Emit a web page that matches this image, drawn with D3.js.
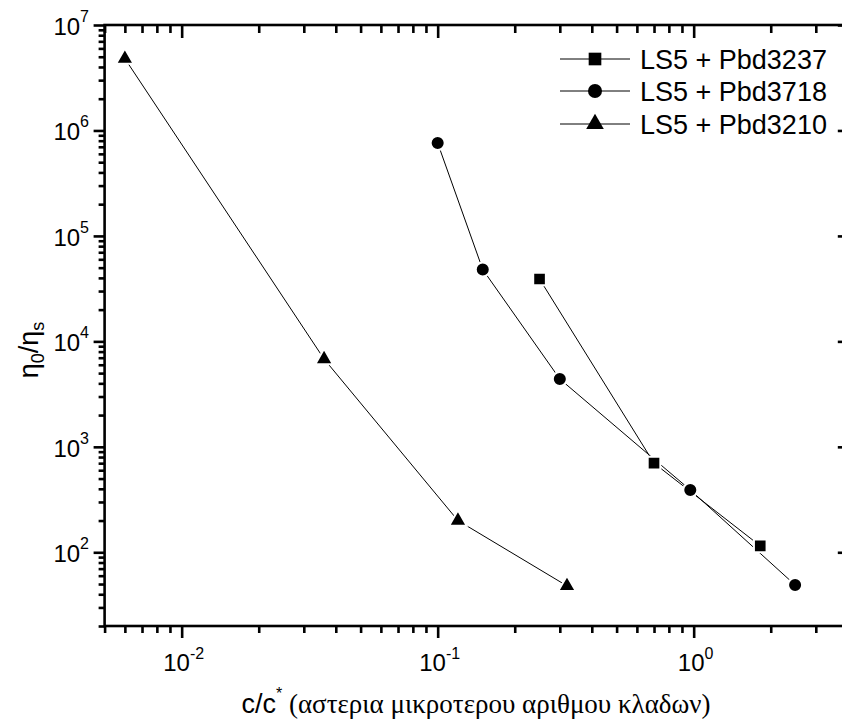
<!DOCTYPE html>
<html><head><meta charset="utf-8">
<script src="https://cdn.jsdelivr.net/npm/d3@7"></script>
<style>body{margin:0;background:#fff} svg{display:block}</style>
</head><body>
<svg id="c" width="842" height="728"></svg>
<script>
const seriesNames = ["LS5 + Pbd3237", "LS5 + Pbd3718", "LS5 + Pbd3210"];
const pbd3237X = [0.25, 0.70, 1.82];
const pbd3237Y = [39000, 700, 115];
const pbd3718X = [0.10, 0.15, 0.30, 0.97, 2.49];
const pbd3718Y = [760000, 48000, 4400, 390, 49];
const pbd3210X = [0.006, 0.036, 0.12, 0.32];
const pbd3210Y = [4800000, 6800, 200, 48];
const xTickExps = [-2, -1, 0];
const yTickExps = [2, 3, 4, 5, 6, 7];
const xDomain = [0.005, 4];
const yDomain = [20, 1e7];

const svg = d3.select("#c");
const L = 104.6, R = 847.8, T = 25, B = 626;
const x = d3.scaleLog().domain(xDomain).range([L, R]);
const y = d3.scaleLog().domain(yDomain).range([B, T]);

const xMajors = xTickExps.map(e => Math.pow(10, e));
const yMajors = yTickExps.map(e => Math.pow(10, e));
const isMajor = v => Math.abs(Math.log10(v) - Math.round(Math.log10(v))) < 1e-9;
const xMinors = x.ticks(50).filter(v => !isMajor(v));
const yMinors = y.ticks(50).filter(v => !isMajor(v));

const FONT = "Liberation Sans, Arial, sans-serif";
const SW = 2.6;

function axis(gen, scale, vals, len, tx, ty) {
  const g = svg.append("g").attr("transform", `translate(${tx},${ty})`)
    .call(gen(scale).tickValues(vals).tickSize(len).tickFormat(""));
  g.select(".domain").remove();
  g.selectAll(".tick line").attr("stroke", "#000").attr("stroke-width", SW);
  return g;
}
axis(d3.axisBottom, x, xMajors, 12, 0, B);
axis(d3.axisBottom, x, xMinors, 7, 0, B);
axis(d3.axisTop, x, xMajors, -13, 0, T);
axis(d3.axisTop, x, xMinors, -8, 0, T);
axis(d3.axisLeft, y, yMajors, 11, L, 0);
axis(d3.axisLeft, y, yMinors, 6, L, 0);
axis(d3.axisRight, y, yMajors, -10, R, 0);
axis(d3.axisRight, y, yMinors, -5, R, 0);

svg.append("rect").attr("x", L).attr("y", T).attr("width", R - L).attr("height", B - T)
  .attr("fill", "none").attr("stroke", "#000").attr("stroke-width", SW);

xTickExps.forEach(e => {
  const t = svg.append("text").attr("x", x(Math.pow(10, e)) + 2).attr("y", 671)
    .attr("text-anchor", "middle").attr("font-family", FONT).attr("font-size", 24);
  t.append("tspan").text("10");
  t.append("tspan").attr("dy", -12).attr("font-size", 16).text(String(e));
});
yTickExps.forEach(e => {
  const t = svg.append("text").attr("x", 89).attr("y", y(Math.pow(10, e)) + 10)
    .attr("text-anchor", "end").attr("font-family", FONT).attr("font-size", 24);
  t.append("tspan").text("10");
  t.append("tspan").attr("dy", -13).attr("font-size", 16).text(String(e));
});

const yt = svg.append("text").attr("transform", "translate(38,350) rotate(-90)")
  .attr("text-anchor", "middle").attr("font-family", FONT).attr("font-size", 27);
yt.append("tspan").text("η");
yt.append("tspan").attr("dy", 6).attr("font-size", 18).text("0");
yt.append("tspan").attr("dy", -6).text("/η");
yt.append("tspan").attr("dy", 6).attr("font-size", 18).text("s");

const xt = svg.append("text").attr("x", 476).attr("y", 713)
  .attr("text-anchor", "middle").attr("font-family", FONT).attr("font-size", 27);
xt.append("tspan").text("c/c");
xt.append("tspan").attr("dy", -14).attr("font-size", 16).text("*");
xt.append("tspan").attr("dy", 14).attr("font-family", "'Liberation Serif', 'Times New Roman', serif")
  .attr("font-size", 27).text(" (αστερια μικροτερου αριθμου κλαδων)");

const series = [
  {name: seriesNames[0], xs: pbd3237X, ys: pbd3237Y, sym: d3.symbolSquare, size: 160},
  {name: seriesNames[1], xs: pbd3718X, ys: pbd3718Y, sym: d3.symbolCircle, size: 155},
  {name: seriesNames[2], xs: pbd3210X, ys: pbd3210Y, sym: d3.symbolTriangle, size: 135}
];
const line = d3.line().x(d => x(d[0])).y(d => y(d[1]));
series.forEach(s => {
  const pts = s.xs.map((v, i) => [v, s.ys[i]]);
  svg.append("path").attr("d", line(pts)).attr("fill", "none").attr("stroke", "#000").attr("stroke-width", 1);
});
series.forEach(s => {
  const pts = s.xs.map((v, i) => [v, s.ys[i]]);
  svg.selectAll(null).data(pts).enter().append("path")
    .attr("d", d3.symbol().type(s.sym).size(s.size))
    .attr("transform", d => `translate(${x(d[0])},${y(d[1])})`)
    .attr("fill", "#000").attr("stroke", "#fff").attr("stroke-width", 2);
});

const legY = [59, 91, 124];
series.forEach((s, i) => {
  const g = svg.append("g").attr("transform", `translate(0,${legY[i]})`);
  g.append("line").attr("x1", 560).attr("x2", 630).attr("stroke", "#000").attr("stroke-width", 1);
  g.append("path").attr("d", d3.symbol().type(s.sym).size(s.size)).attr("transform", "translate(595,0)").attr("fill", "#000");
  g.append("text").attr("x", 640).attr("y", 10).attr("font-family", FONT).attr("font-size", 27).text(s.name);
});
</script>
</body></html>
